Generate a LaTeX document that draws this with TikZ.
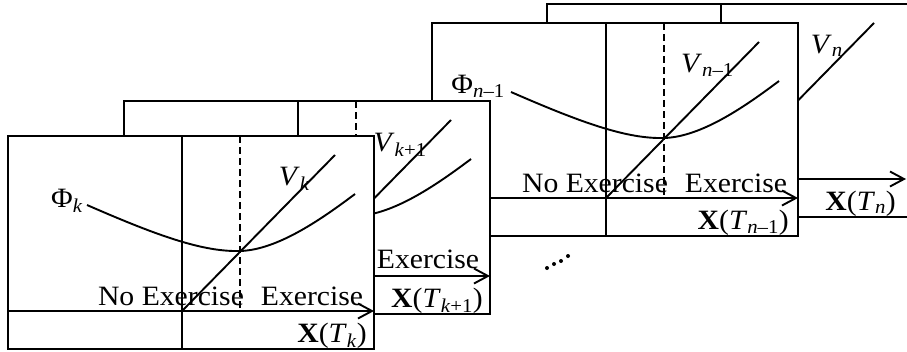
\documentclass[tikz,border=0pt]{standalone}
\usepackage{fontspec}
\setmainfont{Liberation Serif}
\newfontfamily\labfont[FakeStretch=1.06]{Liberation Serif}
\usetikzlibrary{arrows.meta}
\definecolor{ink}{HTML}{000000}
\newcommand{\idx}[1]{\textsubscript{\textit{#1}}}
\tikzset{
  >={Straight Barb[length=14pt,width=15pt]},
  frame/.style={draw=ink, fill=white, line width=1.9pt},
  rule/.style={draw=ink, line width=1.9pt},
  axis/.style={->, draw=ink, line width=1.9pt},
  cut/.style={draw=ink, line width=1.9pt, dash pattern=on 7pt off 4pt},
  lab/.style={text=ink, inner sep=0pt, font=\labfont\fontsize{28}{30}\selectfont},
  phi curve/.pic={\draw[rule] (79,69) .. controls (150,100) and (195,116) .. (232,115)
                               .. controls (270,114) and (315,82) .. (347,58);},
}

\begin{document}
\begin{tikzpicture}[x=1pt, y=-1pt]
  \useasboundingbox (0,0) rectangle (907,351);
  \clip (0,0) rectangle (907,351);
  % panel n (back)
  \begin{scope}[shift={(547,4)}]
    \filldraw[frame] (0,0) rectangle (366,213);
    \draw[rule] (174,0) -- (174,213);
    \coordinate (n-o) at (174,175);
    \coordinate (n-e) at (359,175);
    \draw[axis] (0,175) -- (n-e);
    \draw[rule] (n-o) -- ++(153,-156);
    \node[lab, anchor=base east] (vn) at (296,49) {\textit{V}\idx{n}};
    \node[lab, anchor=base east] (xn) at (349,206) {\textbf{X}(\textit{T}\idx{n})};
  \end{scope}
  % dots between the dates
  \foreach \x/\y in {547/268, 554/264, 561/261, 568/256}
    \fill[ink] (\x,\y) circle (2pt);
  % panel n-1
  \begin{scope}[shift={(432,23)}]
    \filldraw[frame] (0,0) rectangle (366,213);
    \draw[rule] (174,0) -- (174,213);
    \draw[cut] (232,0) -- (232,172);
    \coordinate (m-o) at (174,175);
    \coordinate (m-e) at (366,175);
    \draw[axis] (0,175) -- (m-e);
    \draw[rule] (m-o) -- ++(153,-156);
    \pic {phi curve};
    \node[lab, anchor=base east] (phim) at (73,70) {Φ\textsubscript{\textit{n}–1}};
    \node[lab, anchor=base east] (vm) at (302,49) {\textit{V}\textsubscript{\textit{n}–1}};
    \node[lab, anchor=base] (noexm) at (163,169) {No Exercise};
    \node[lab, anchor=base] (exm) at (304,169) {Exercise};
    \node[lab, anchor=base east] (xm) at (357,206) {\textbf{X}(\textit{T}\textsubscript{\textit{n}–1})};
  \end{scope}
  % panel k+1
  \begin{scope}[shift={(124,101)}]
    \filldraw[frame] (0,0) rectangle (366,213);
    \draw[rule] (174,0) -- (174,213);
    \draw[cut] (232,0) -- (232,172);
    \coordinate (j-o) at (174,175);
    \coordinate (j-e) at (366,175);
    \draw[axis] (0,175) -- (j-e);
    \draw[rule] (j-o) -- ++(153,-156);
    \pic {phi curve};
    \node[lab, anchor=base east] (vj) at (303,50) {\textit{V}\textsubscript{\textit{k}+1}};
    \node[lab, anchor=base] (exj) at (304,167) {Exercise};
    \node[lab, anchor=base east] (xj) at (359,206) {\textbf{X}(\textit{T}\textsubscript{\textit{k}+1})};
  \end{scope}
  % panel k (front)
  \begin{scope}[shift={(8,136)}]
    \filldraw[frame] (0,0) rectangle (366,213);
    \draw[rule] (174,0) -- (174,213);
    \draw[cut] (232,0) -- (232,172);
    \coordinate (k-o) at (174,175);
    \coordinate (k-e) at (366,175);
    \draw[axis] (0,175) -- (k-e);
    \draw[rule] (k-o) -- ++(153,-156);
    \pic {phi curve};
    \node[lab, anchor=base east] (phik) at (75,71) {Φ\idx{k}};
    \node[lab, anchor=base east] (vk) at (302,49) {\textit{V}\idx{k}};
    \node[lab, anchor=base] (noexk) at (163,169) {No Exercise};
    \node[lab, anchor=base] (exk) at (304,169) {Exercise};
    \node[lab, anchor=base east] (xk) at (359,206) {\textbf{X}(\textit{T}\idx{k})};
  \end{scope}
\end{tikzpicture}
\end{document}
